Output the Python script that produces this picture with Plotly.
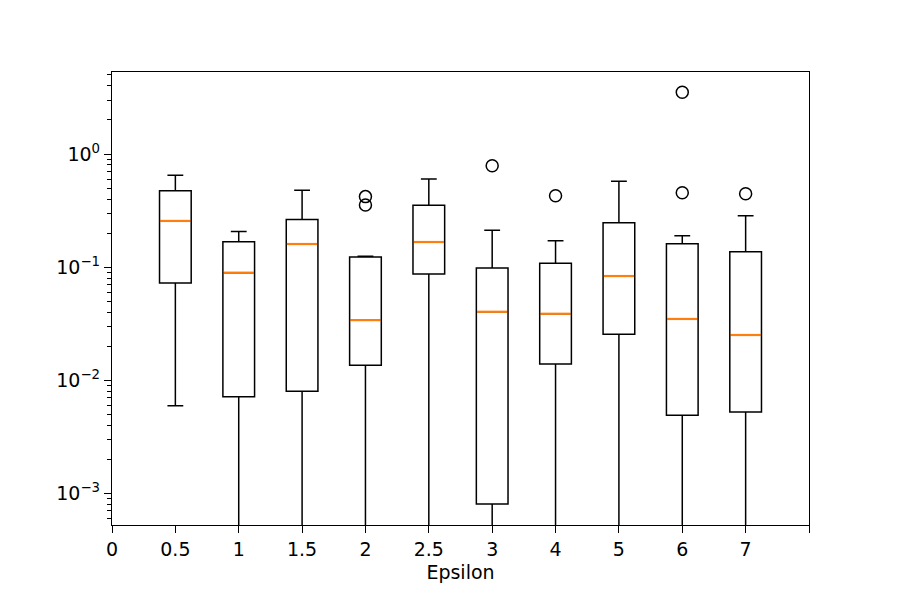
import plotly.graph_objects as go

positions = [1, 2, 3, 4, 5, 6, 7, 8, 9, 10]
epsilon_labels = ["0.5", "1", "1.5", "2", "2.5", "3", "4", "5", "6", "7"]

upper_whisker = [0.648, 0.206, 0.477, 0.125, 0.601, 0.2115, 0.171, 0.573, 0.1896, 0.285]
q3_values = [0.474, 0.168, 0.264, 0.123, 0.352, 0.0982, 0.108, 0.247, 0.161, 0.137]
medians = [0.256, 0.0893, 0.160, 0.034, 0.1667, 0.0403, 0.0387, 0.0834, 0.0348, 0.0251]
q1_values = [0.0723, 0.00714, 0.00798, 0.01354, 0.0869, 0.000804, 0.0139, 0.0255, 0.0049, 0.00523]
# whiskers of all but the first box run to (near) zero, below the visible range
lower_whisker = [0.00595, 1e-5, 1e-5, 1e-5, 1e-5, 1e-5, 1e-5, 1e-5, 1e-5, 1e-5]

outlier_pos = [4, 4, 6, 7, 9, 9, 10]
outlier_val = [0.42, 0.354, 0.788, 0.428, 3.51, 0.455, 0.446]

BOX_W = 0.5
LW = 1.5
FONT = dict(family="DejaVu Sans", size=19, color="black")

fig = go.Figure()

fig.add_trace(go.Box(
    x=positions,
    q1=q1_values, median=medians, q3=q3_values,
    lowerfence=lower_whisker, upperfence=upper_whisker,
    width=BOX_W, whiskerwidth=0.5,
    fillcolor="rgba(0,0,0,0)",
    line=dict(color="black", width=LW),
    boxpoints=False, showlegend=False, hoverinfo="skip",
))

# orange median lines
mx, my = [], []
for p, m in zip(positions, medians):
    mx += [p - BOX_W / 2 + 0.01, p + BOX_W / 2 - 0.01, None]
    my += [m, m, None]
fig.add_trace(go.Scatter(x=mx, y=my, mode="lines",
                         line=dict(color="#ff7f0e", width=2.2),
                         showlegend=False, hoverinfo="skip"))

fig.add_trace(go.Scatter(x=outlier_pos, y=outlier_val, mode="markers",
                         marker=dict(symbol="circle-open", size=12, color="black",
                                     line=dict(width=LW, color="black")),
                         showlegend=False, hoverinfo="skip"))

tick_positions = [0] + positions + [11]
tick_text = ["0"] + epsilon_labels + [""]

minor_vals = []
for e in range(-4, 1):
    for k in range(2, 10):
        minor_vals.append(k * 10 ** e)

fig.update_layout(
    width=900, height=600,
    margin=dict(l=112, r=91, t=72, b=75),
    paper_bgcolor="white", plot_bgcolor="white",
    font=FONT,
    xaxis=dict(
        range=[0, 11], tickmode="array", tickvals=tick_positions, ticktext=tick_text,
        ticks="outside", ticklen=7, tickwidth=1.3, tickcolor="black",
        showline=True, mirror=True, linecolor="black", linewidth=1.3,
        showgrid=False, zeroline=False,
        title=dict(text="Epsilon", standoff=6, font=FONT),
        tickfont=FONT,
    ),
    yaxis=dict(
        type="log", range=[-3.28, 0.725],
        tickmode="array", tickvals=[0.001, 0.01, 0.1, 1],
        ticktext=["10<sup>−3</sup>", "10<sup>−2</sup>", "10<sup>−1</sup>", "10<sup>0</sup>"],
        ticks="outside", ticklen=7, tickwidth=1.3, tickcolor="black",
        minor=dict(tickmode="array", tickvals=minor_vals, ticks="outside",
                   ticklen=4, tickwidth=1, tickcolor="black", showgrid=False),
        showline=True, mirror=True, linecolor="black", linewidth=1.3,
        showgrid=False, zeroline=False,
        tickfont=FONT,
    ),
)

fig.write_html("out.html")
